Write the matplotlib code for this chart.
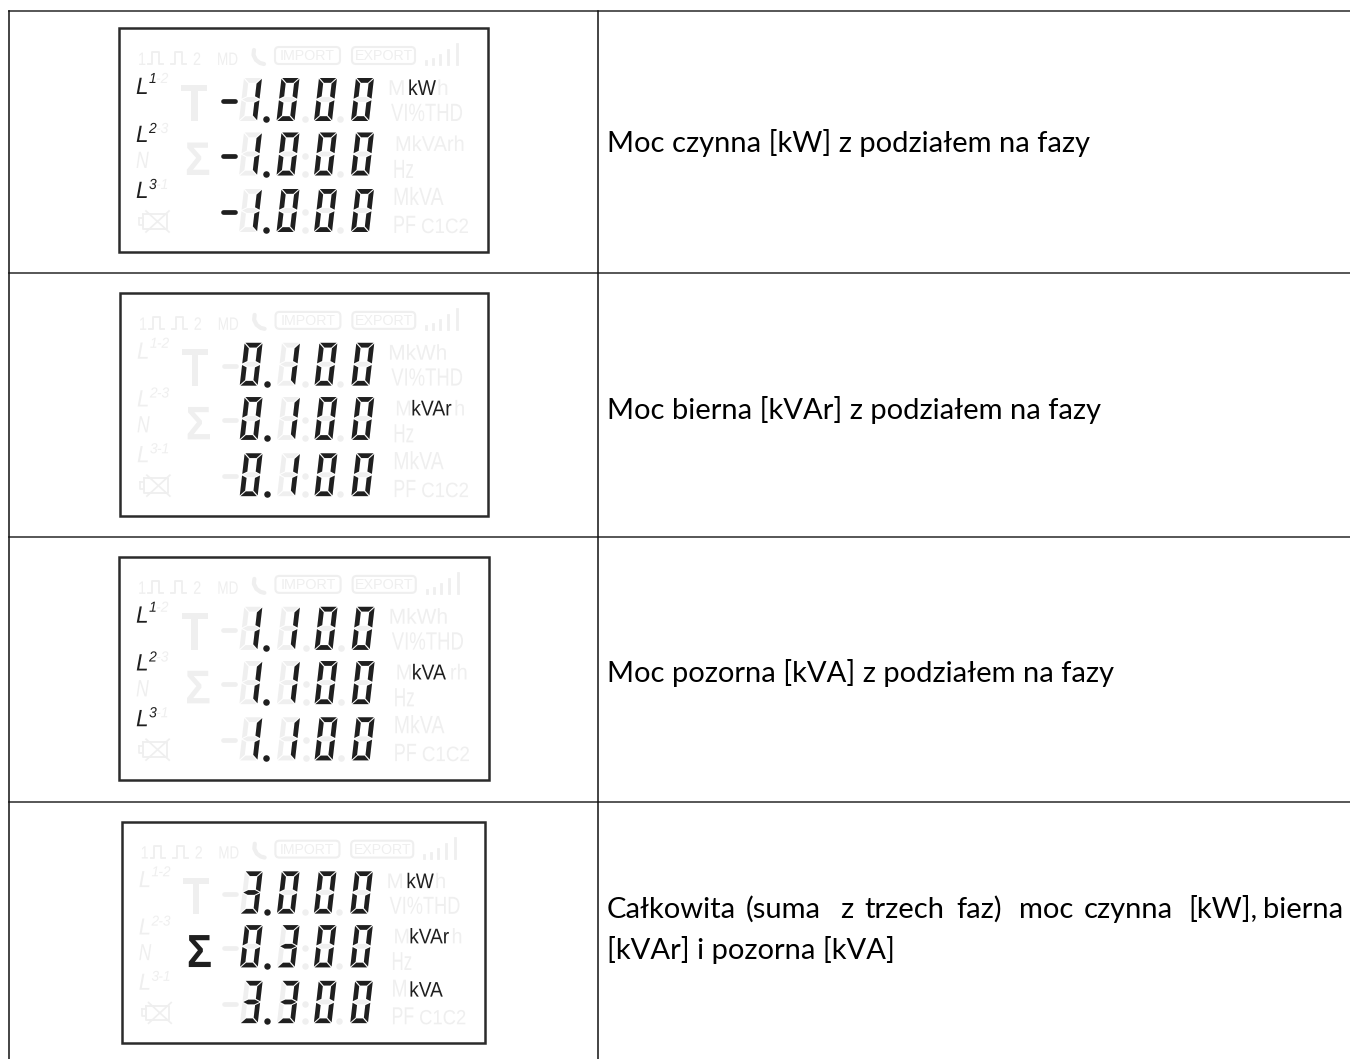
import matplotlib
matplotlib.use("Agg")
import matplotlib.pyplot as plt
from matplotlib.patches import Rectangle, FancyBboxPatch
from matplotlib.patheffects import AbstractPathEffect
from matplotlib.transforms import Affine2D

# odczyty z wyswietlacza
odczyty_1 = ["-1.000", "-1.000", "-1.000"]
odczyty_2 = ["0.100", "0.100", "0.100"]
odczyty_3 = ["1.100", "1.100", "1.100"]
odczyty_4 = ["3.000", "0.300", "3.300"]
odczyty = [odczyty_1, odczyty_2, odczyty_3, odczyty_4]

fazy = [True, False, True, False]
suma = [False, False, False, True]
# jednostka aktywna: indeks linii -> tekst
jednostki = [{0: "kW"}, {2: "kVAr"}, {2: "kVA"}, {0: "kW", 2: "kVAr", 4: "kVA"}]

opisy = ["Moc czynna [kW] z podziałem na fazy",
         "Moc bierna [kVAr] z podziałem na fazy",
         "Moc pozorna [kVA] z podziałem na fazy"]
slowa_4 = ["Całkowita", "(suma", "z", "trzech", "faz)", "moc", "czynna", "[kW],", "bierna"]
slowa_4_x = [607, 746, 840, 864, 956, 1019, 1084, 1188, 1263]
opis_4_2 = "[kVAr] i pozorna [kVA]"

# ramki paneli: x0, y0, x1, y1
ramki = [(119, 28, 488, 252), (120, 293, 488, 516), (119, 557, 489, 780), (122, 822, 485, 1043)]
opisy_y = [152, 419, 682]

CIEMNY = "#1f1f1f"
JASNY = "#efefef"
ZWYKLY = ["Liberation Sans", "DejaVu Sans"]

SEGMENTY = {"0": "abcdef", "1": "bc", "3": "abcdg", "8": "abcdefg"}

fig = plt.figure(figsize=(13.5, 10.59), dpi=100)
ax = fig.add_axes([0, 0, 1, 1])
ax.set_xlim(0, 1350)
ax.set_ylim(1059, 0)
ax.axis("off")


class Scisk(AbstractPathEffect):
    # zwezenie tekstu w poziomie (brak fontu narrow)
    def __init__(self, x0, sx):
        super().__init__()
        self.x0 = x0
        self.sx = sx

    def draw_path(self, renderer, gc, tpath, affine, rgbFace=None):
        a = affine + Affine2D().translate(-self.x0, 0).scale(self.sx, 1).translate(self.x0, 0)
        renderer.draw_path(gc, tpath, a, rgbFace)


def segment(nazwa, w, h, t, g=0.8):
    s = h / 2
    if nazwa == "a":
        return [(g, 0), (w - g, 0), (w - g - t, t), (g + t, t)]
    if nazwa == "d":
        return [(g, h), (w - g, h), (w - g - t, h - t), (g + t, h - t)]
    if nazwa == "g":
        return [(g + t, s - t / 2), (w - g - t, s - t / 2), (w - g, s), (w - g - t, s + t / 2),
                (g + t, s + t / 2), (g, s)]
    if nazwa == "f":
        return [(0, g), (t, g + t), (t, s - g - t / 2), (0, s - g)]
    if nazwa == "b":
        return [(w, g), (w - t, g + t), (w - t, s - g - t / 2), (w, s - g)]
    if nazwa == "e":
        return [(0, s + g), (t, s + g + t / 2), (t, h - g - t), (0, h - g)]
    return [(w, s + g), (w - t, s + g + t / 2), (w - t, h - g - t), (w, h - g)]


def cyfra(x, y, znak, kolor, k):
    w, h, t, skos = 18 * k, 43 * k, 4.8 * k, 5 * k
    for nazwa in SEGMENTY[znak]:
        pts = segment(nazwa, w, h, t)
        xs = [x + p[0] + skos * (1 - p[1] / h) for p in pts]
        ys = [y + p[1] for p in pts]
        ax.fill(xs, ys, color=kolor, lw=0, zorder=3)


def panel(nr):
    x0, y0, x1, y1 = ramki[nr]
    k = (x1 - x0) / 369
    ky = (y1 - y0) / 224
    X = lambda v: x0 + v * k
    Y = lambda v: y0 + v * ky

    ax.add_patch(Rectangle((x0, y0), x1 - x0, y1 - y0, fc="white", ec="#2b2b2b", lw=1.8, zorder=2))

    def tekst(xx, yy, s, kolor=JASNY, rozm=15, sx=1.0, **kw):
        ax.text(X(xx), Y(yy), s, color=kolor, fontsize=rozm * k, family=ZWYKLY,
                va="baseline", ha="left", zorder=3,
                path_effects=[Scisk(X(xx), sx)], **kw)

    # gorny wiersz
    tekst(19, 37, "1", rozm=13, sx=0.8)
    tekst(74, 37, "2", rozm=13, sx=0.8)
    tekst(98, 37, "MD", rozm=13, sx=0.75)
    for px in [29, 52]:
        xs = [X(px), X(px + 4), X(px + 4), X(px + 11), X(px + 11), X(px + 15)]
        ys = [Y(36), Y(36), Y(24), Y(24), Y(36), Y(36)]
        ax.plot(xs, ys, color=JASNY, lw=1.3, zorder=3)
    ax.plot([X(135), X(134.5), X(137), X(141), X(145)], [Y(22), Y(27), Y(32), Y(35), Y(36)],
            color=JASNY, lw=3, solid_capstyle="round", zorder=3)
    for xa, xb, s in [(156, 221, "IMPORT"), (233, 296, "EXPORT")]:
        ax.add_patch(FancyBboxPatch((X(xa + 4), Y(23)), (xb - xa - 8) * k, 9 * ky,
                                    boxstyle="round,pad=4", fc="white", ec=JASNY, lw=1.5, zorder=3))
        ax.text(X((xa + xb) / 2), Y(28), s, color=JASNY, fontsize=10.3 * k, family=ZWYKLY,
                ha="center", va="center", zorder=4)
    for bx, bh in zip([307, 314, 321, 329, 338], [3, 5, 9, 14, 20]):
        ax.plot([X(bx), X(bx)], [Y(36), Y(36 - bh)], color=JASNY, lw=2, zorder=3)

    # fazy
    aktywne = fazy[nr]
    for yy, g1, g2, dy in [(66, "1", "-2", 11), (114, "2", "-3", 9), (170, "3", "-1", 9)]:
        kol = CIEMNY if aktywne else JASNY
        tekst(17, yy, "L", kol, 17, 0.95, style="italic")
        tekst(30, yy - dy, g1, kol, 10.5, 0.95, style="italic")
        tekst(37, yy - dy, g2, JASNY, 10.5, 0.95, style="italic")
    tekst(17, 140, "N", rozm=17, sx=0.75, style="italic")

    # T, suma
    tekst(62, 93, "T", rozm=38, sx=0.83, weight="bold")
    tekst(66, 147, "\u03a3", CIEMNY if suma[nr] else JASNY, 34, 0.9, weight="bold")

    # bateria
    ax.plot([X(24), X(48), X(48), X(24), X(24)], [Y(186), Y(186), Y(201), Y(201), Y(186)],
            color=JASNY, lw=1.3, zorder=3)
    ax.plot([X(27), X(50)], [Y(183), Y(204)], color=JASNY, lw=1.2, zorder=3)
    ax.plot([X(50), X(27)], [Y(183), Y(204)], color=JASNY, lw=1.2, zorder=3)
    ax.plot([X(20), X(24), X(24), X(20), X(20)], [Y(190), Y(190), Y(197), Y(197), Y(190)],
            color=JASNY, lw=1.2, zorder=3)

    # cyfry
    for w, y_w in enumerate([50, 104.5, 161]):
        s = odczyty[nr][w]
        ujemny = s.startswith("-")
        cyfry = s.lstrip("-").replace(".", "")
        ym = Y(y_w + 23)
        ax.plot([X(104), X(116)], [ym, ym], color=CIEMNY if ujemny else JASNY, lw=3.4 * k,
                solid_capstyle="round", zorder=3)
        for i, dx in enumerate([120, 157.5, 195, 232]):
            cyfra(X(dx), Y(y_w), "8", JASNY, k)
            cyfra(X(dx), Y(y_w), cyfry[i], CIEMNY, k)
        for i, dx in enumerate([147, 186, 221]):
            ax.plot(X(dx), Y(y_w + 41), "o", ms=4.7 * k,
                    color=CIEMNY if i == 0 else JASNY, mew=0, zorder=4)
        if w > 0:
            ax.plot(X(186), Y(y_w + 23), "o", ms=4.7 * k, color=JASNY, mew=0, zorder=2.5)

    # jednostki po prawej: x, y, tekst, rozmiar, scisk
    linie = [(269, 67, "MkWh", 15.5, 0.97),
             (272, 93, "VI%THD", 18, 0.74),
             (276, 123, "MkVArh", 15.5, 0.93),
             (274, 150, "Hz", 19, 0.65),
             (274, 177, "MkVA", 18, 0.78)]
    # pozycja aktywnej jednostki i to co zostaje po niej
    aktywna_x = {"kW": 289, "kVAr": 292, "kVA": 292}
    ogon = {"kW": ("h", 318), "kVAr": ("h", 335), "kVA": ("rh", 330)}
    for i, (lx, ly, s, rozm, sx) in enumerate(linie):
        akt = jednostki[nr].get(i)
        if akt is None:
            tekst(lx, ly, s, rozm=rozm, sx=sx)
        else:
            tekst(lx, ly, "M", rozm=rozm, sx=sx)
            tekst(aktywna_x[akt], ly, akt, CIEMNY, 15.5, 0.9)
            if i < 4:
                tekst(ogon[akt][1], ly, ogon[akt][0], rozm=rozm, sx=sx)
    tekst(274, 205, "PF", rozm=18, sx=0.72)
    tekst(302, 205, "C1C2", rozm=15, sx=0.9)


# siatka tabeli
KOLOR_LINII = "#3a3a3a"
for y in [11, 273, 537, 802]:
    ax.plot([9, 1350], [y, y], color=KOLOR_LINII, lw=1.2, zorder=1)
for x in [9, 597.5]:
    ax.plot([x, x], [11, 1059], color="#111111", lw=1.1, zorder=1)

for n in range(4):
    panel(n)

TEKST = ["Lato", "DejaVu Sans"]
FS = 21
for s, y in zip(opisy, opisy_y):
    ax.text(607, y, s, fontsize=FS, family=TEKST, color="black", va="baseline")
for s, x in zip(slowa_4, slowa_4_x):
    ax.text(x, 918, s, fontsize=FS, family=TEKST, color="black", va="baseline")
ax.text(607, 959, opis_4_2, fontsize=FS, family=TEKST, color="black", va="baseline")

fig.savefig("out.png", dpi=100)
